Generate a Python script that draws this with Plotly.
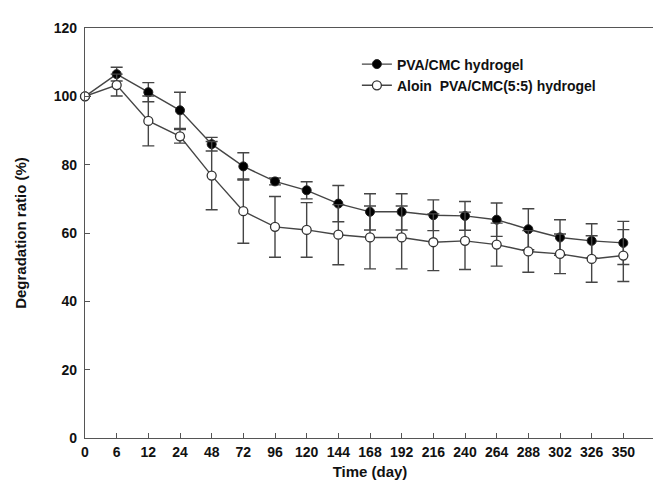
import plotly.graph_objects as go

days = ["0", "6", "12", "24", "48", "72", "96", "120", "144", "168", "192",
        "216", "240", "264", "288", "302", "326", "350"]
pva_cmc = [100, 106.5, 101.2, 95.9, 86.0, 79.5, 75.1, 72.5, 68.6, 66.2, 66.2,
           65.2, 65.0, 63.9, 61.1, 58.7, 57.7, 57.1]
pva_cmc_err = [0, 2.0, 2.8, 5.3, 2.0, 4.0, 1.0, 2.5, 5.3, 5.3, 5.3,
               4.5, 4.2, 4.9, 6.0, 5.2, 5.0, 6.3]
aloin = [100, 103.3, 92.8, 88.3, 76.8, 66.4, 61.8, 60.9, 59.5, 58.7, 58.7,
         57.3, 57.7, 56.6, 54.6, 53.9, 52.4, 53.4]
aloin_err = [0, 3.2, 7.3, 2.0, 10.0, 9.4, 8.9, 8.0, 8.8, 9.2, 9.2,
             8.3, 8.4, 6.3, 6.1, 5.8, 6.8, 7.6]
y_ticks = [0, 20, 40, 60, 80, 100, 120]

LINE = "#454545"
FONT = "Liberation Sans, Arial, sans-serif"
TXT = "#111111"

fig = go.Figure()
fig.add_trace(go.Scatter(
    x=days, y=pva_cmc, name="PVA/CMC hydrogel", mode="lines+markers",
    line=dict(color=LINE, width=1.4),
    marker=dict(symbol="circle", size=9, color="#000000",
                line=dict(color="#222222", width=1)),
    error_y=dict(type="data", array=pva_cmc_err, visible=True,
                 color=LINE, thickness=1.4, width=6),
    cliponaxis=False,
))
fig.add_trace(go.Scatter(
    x=days, y=aloin, name="Aloin  PVA/CMC(5:5) hydrogel", mode="lines+markers",
    line=dict(color=LINE, width=1.4),
    marker=dict(symbol="circle", size=9, color="#ffffff",
                line=dict(color="#333333", width=1.3)),
    error_y=dict(type="data", array=aloin_err, visible=True,
                 color=LINE, thickness=1.4, width=6),
    cliponaxis=False,
))

fig.update_layout(
    width=661, height=493,
    margin=dict(l=77, r=14, t=17, b=63),
    paper_bgcolor="white", plot_bgcolor="white",
    font=dict(family=FONT, size=14, color=TXT, weight="bold"),
    showlegend=True,
    legend=dict(x=0.477, y=0.95, xanchor="left", yanchor="top",
                bgcolor="rgba(0,0,0,0)", borderwidth=0,
                font=dict(family=FONT, size=14, color=TXT, weight="bold"),
                tracegroupgap=0, itemwidth=30),
    xaxis=dict(
        type="category", categoryorder="array", categoryarray=days,
        range=[0, 18], showgrid=False, zeroline=False,
        showline=True, linecolor="#555555", linewidth=1.4, mirror=True,
        ticks="inside", ticklen=5, tickcolor="#555555", tickwidth=1.2,
        tickfont=dict(family=FONT, size=14, weight="bold", color=TXT),
        ticklabelstandoff=1,
        title=dict(text="Time (day)", standoff=7,
                   font=dict(family=FONT, size=15, weight="bold", color=TXT)),
    ),
    yaxis=dict(
        range=[0, 120], tickvals=y_ticks, showgrid=False, zeroline=False,
        showline=True, linecolor="#555555", linewidth=1.4,
        ticks="inside", ticklen=5, tickcolor="#555555", tickwidth=1.2,
        tickfont=dict(family=FONT, size=14, weight="bold", color=TXT),
        ticklabelstandoff=4,
        title=dict(text="Degradation ratio (%)", standoff=23,
                   font=dict(family=FONT, size=15, weight="bold", color=TXT)),
    ),
    shapes=[dict(type="line", xref="paper", yref="paper", x0=1, x1=1, y0=0, y1=1,
                 line=dict(color="#cfcfcf", width=1.5))],
)

fig.write_html("out.html")
